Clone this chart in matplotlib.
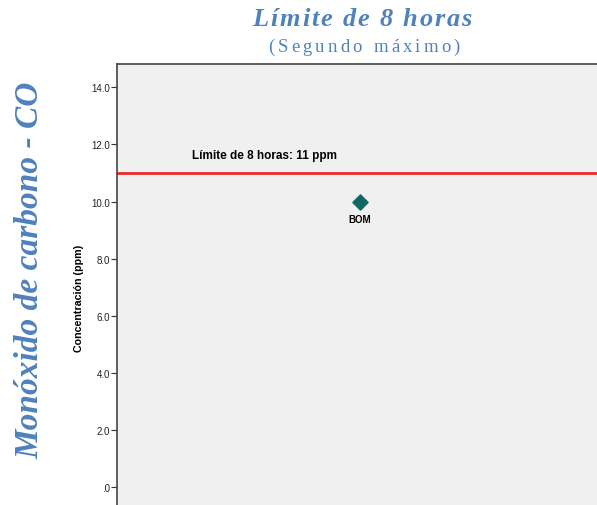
import matplotlib.pyplot as plt
from matplotlib.ticker import FuncFormatter

# data
estaciones = ['BOM']
concentracion = [10.0]
limite = 11
yticks = [0, 2, 4, 6, 8, 10, 12, 14]

azul = '#4f81bd'
W, H = 597, 506


def spaced_text(fig, xc, yc, s, gap, **kw):
    # draw text char by char with extra letter spacing (pixel coords, centered)
    r = fig.canvas.get_renderer()
    widths = []
    for ch in s:
        t = fig.text(0, 0, ch, **kw)
        widths.append(t.get_window_extent(r).width if ch != ' ' else None)
        t.remove()
    sp = fig.text(0, 0, 'a a', **kw)
    na = fig.text(0, 0, 'aa', **kw)
    space_w = sp.get_window_extent(r).width - na.get_window_extent(r).width
    sp.remove()
    na.remove()
    widths = [w if w is not None else space_w for w in widths]
    total = sum(widths) + gap * (len(s) - 1)
    x = xc - total / 2
    for ch, w in zip(s, widths):
        fig.text(x / W, 1 - yc / H, ch, ha='left', va='center', **kw)
        x += w + gap


fig = plt.figure(figsize=(5.97, 5.06), dpi=100)
# axes runs off the right and bottom edges like in the original
ax = fig.add_axes([117 / W, -0.05, (603 - 117) / W, (H * 1.05 - 65) / H])
ax.set_facecolor('#f0f0f0')

ax.set_xlim(-0.5, 0.5)
ax.set_ylim(-1.5, 14.81)

# limit line
ax.axhline(limite, color='#ee2a2a', lw=2, zorder=2)
ax.text(-0.345, limite + 0.4, 'Límite de 8 horas: %d ppm' % limite, fontsize=8.5,
        fontweight='bold', family='Liberation Sans', va='bottom', ha='left')

# the point
ax.scatter(range(len(estaciones)), concentracion, marker='D', s=60,
           color='#116661', zorder=3)
for i, (e, v) in enumerate(zip(estaciones, concentracion)):
    ax.text(i, v - 0.45, e, fontsize=7, fontweight='bold', family='Liberation Sans',
            ha='center', va='top')

ax.set_yticks(yticks)
ax.yaxis.set_major_formatter(FuncFormatter(lambda v, p: '.0' if abs(v) < 1e-9 else '%.1f' % v))
ax.tick_params(axis='y', labelsize=7, length=4, width=0.8, color='#333333',
               labelcolor='#222222', pad=1)
for lab in ax.get_yticklabels():
    lab.set_family('Liberation Sans')
ax.set_xticks([])
ax.set_ylabel('Concentración (ppm)', fontsize=7.7, fontweight='bold',
              family='Liberation Sans', labelpad=5)

for s in ax.spines.values():
    s.set_color('#444444')
    s.set_linewidth(1.2)

# titles
spaced_text(fig, 362, 20, 'Límite de 8 horas', 1.8, fontsize=19, fontweight='bold',
            style='italic', family='Liberation Serif', color=azul)
spaced_text(fig, 364, 47, '(Segundo máximo)', 3.2, fontsize=13.5,
            family='Liberation Serif', color=azul)
fig.text(30 / W, 1 - 270 / H, 'Monóxido de carbono - CO', fontsize=24, fontweight='bold',
         style='italic', family='Liberation Serif', color=azul, rotation=90,
         ha='center', va='center')

fig.savefig('out.png', dpi=100)
